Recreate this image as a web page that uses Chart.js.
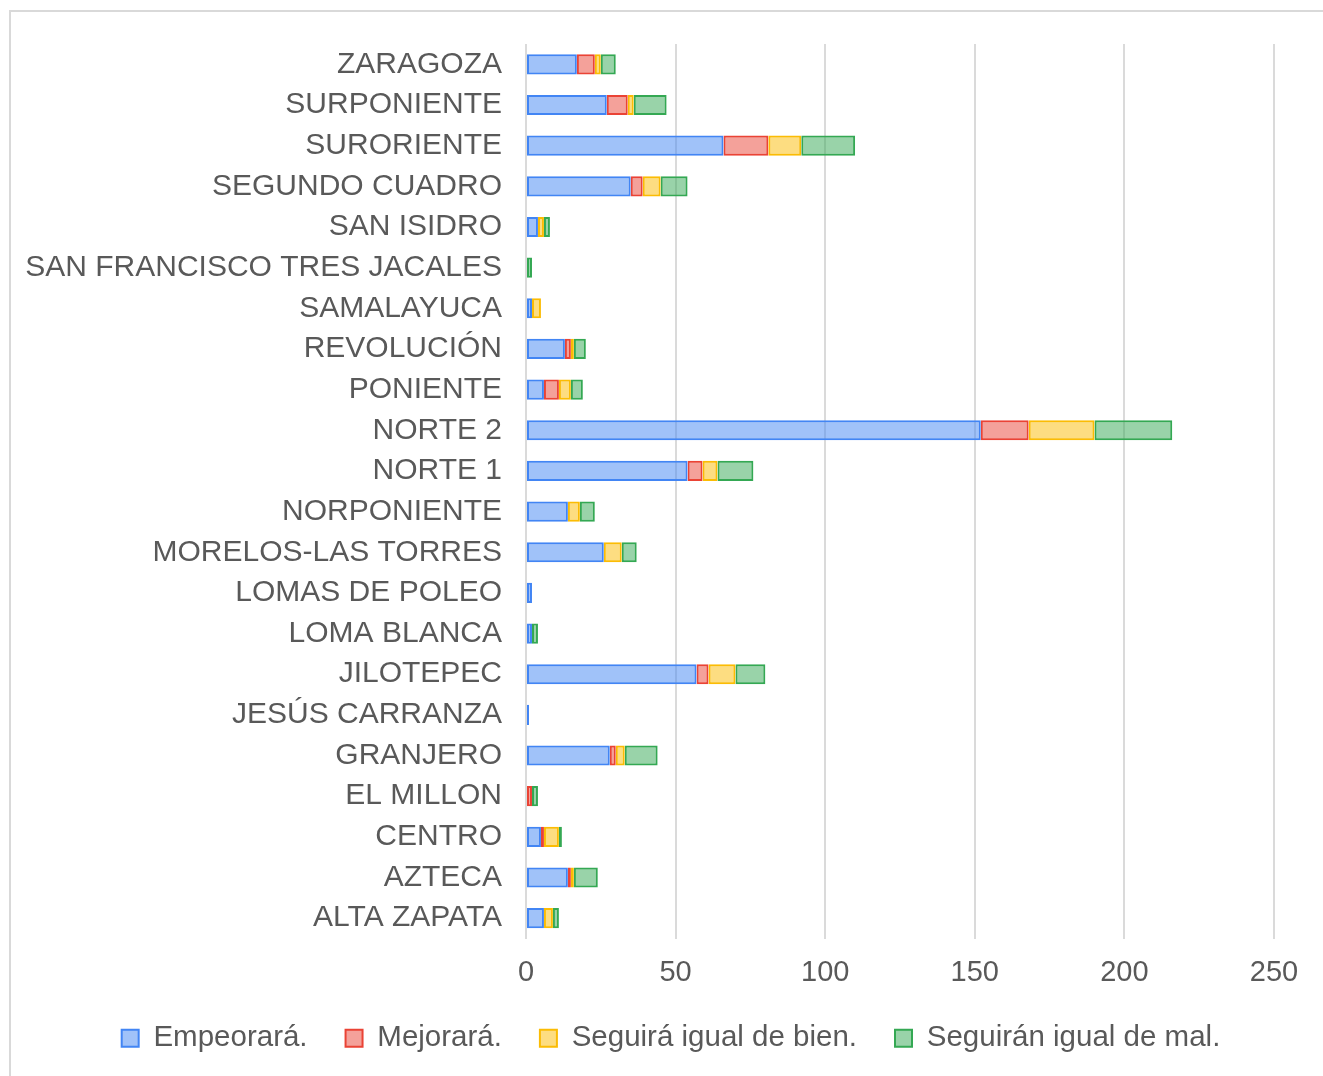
<!DOCTYPE html>
<html lang="es">
<head>
<meta charset="utf-8">
<title>Percepción por zona</title>
<script src="https://cdn.jsdelivr.net/npm/chart.js@4/dist/chart.umd.min.js"></script>
<style>
    html, body { margin: 0; padding: 0; background: #ffffff; overflow: hidden; }
    #frame {
        position: absolute;
        left: 9px;
        top: 10px;
        width: 1400px;
        height: 1200px;
        border-left: 2px solid #d9d9d9;
        border-top: 2px solid #d9d9d9;
    }
    #wrap { position: relative; width: 1323px; height: 1076px; }
</style>
</head>
<body>
<div id="frame"></div>
<div id="wrap"><canvas id="zonesChart"></canvas></div>
<script>
// Zones, top to bottom as they appear in the chart
const zones = [
    'ZARAGOZA', 'SURPONIENTE', 'SURORIENTE', 'SEGUNDO CUADRO', 'SAN ISIDRO',
    'SAN FRANCISCO TRES JACALES', 'SAMALAYUCA', 'REVOLUCIÓN', 'PONIENTE',
    'NORTE 2', 'NORTE 1', 'NORPONIENTE', 'MORELOS-LAS TORRES', 'LOMAS DE POLEO',
    'LOMA BLANCA', 'JILOTEPEC', 'JESÚS CARRANZA', 'GRANJERO', 'EL MILLON',
    'CENTRO', 'AZTECA', 'ALTA ZAPATA'
];

// Answer counts per zone (same order as zones)
const empeorara = [17, 27, 66, 35, 4, 0, 2, 13, 6, 152, 54, 14, 26, 2, 2, 57, 1, 28, 0, 5, 14, 6];
const mejorara  = [6, 7, 15, 4, 0, 0, 0, 2, 5, 16, 5, 0, 0, 0, 0, 4, 0, 2, 2, 1, 1, 0];
const igualBien = [2, 2, 11, 6, 2, 0, 3, 1, 4, 22, 5, 4, 6, 0, 0, 9, 0, 3, 0, 5, 1, 3];
const igualMal  = [5, 11, 18, 9, 2, 2, 0, 4, 4, 26, 12, 5, 5, 0, 2, 10, 0, 11, 2, 1, 8, 2];

// Series names for the legend
const seriesNames = ['Empeorará.', 'Mejorará.', 'Seguirá igual de bien.', 'Seguirán igual de mal.'];

// Value axis range
const axisMin = 0;
const axisMax = 250;
const axisStep = 50;

const TEXT_COLOR = '#595959';
const FONT_FAMILY = '"Liberation Sans", Arial, sans-serif';

/**
 * Builds one stacked bar dataset
 */
function makeDataset(label, data, border, fill) {
    return {
        label,
        data,
        backgroundColor: fill,
        borderColor: border,
        borderWidth: 2,
        borderSkipped: false,
        categoryPercentage: 0.8,
        barPercentage: 0.62
    };
}

// Nudge the legend row a bit to the right, the long zone names need the left margin
const legendNudge = {
    id: 'legendNudge',
    afterLayout(chart) {
        if (!chart.legend) return;
        chart.legend.left += 24;
        chart.legend.right += 24;
    }
};

function renderZonesChart() {
    const canvas = document.getElementById('zonesChart');
    if (!canvas) return;

    const ctx = canvas.getContext('2d');
    new Chart(ctx, {
        type: 'bar',
        data: {
            labels: zones,
            datasets: [
                makeDataset(seriesNames[0], empeorara, '#4285f4', 'rgba(66, 133, 244, 0.5)'),
                makeDataset(seriesNames[1], mejorara, '#ea4335', 'rgba(234, 67, 53, 0.5)'),
                makeDataset(seriesNames[2], igualBien, '#fbbc04', 'rgba(251, 188, 4, 0.5)'),
                makeDataset(seriesNames[3], igualMal, '#34a853', 'rgba(52, 168, 83, 0.5)')
            ]
        },
        plugins: [legendNudge],
        options: {
            indexAxis: 'y',
            responsive: true,
            maintainAspectRatio: false,
            animation: false,
            layout: {
                padding: { left: 20, right: 49, top: 44, bottom: 13 }
            },
            scales: {
                x: {
                    stacked: true,
                    min: axisMin,
                    max: axisMax,
                    grid: {
                        color: '#dadada',
                        lineWidth: 2,
                        drawTicks: false
                    },
                    border: { display: false },
                    ticks: {
                        stepSize: axisStep,
                        padding: 20,
                        color: TEXT_COLOR,
                        font: { family: FONT_FAMILY, size: 29, lineHeight: 1 }
                    },
                    afterFit: (scale) => { scale.height = 47; }
                },
                y: {
                    stacked: true,
                    grid: { display: false, drawTicks: false },
                    border: { display: false },
                    ticks: {
                        padding: 24,
                        color: TEXT_COLOR,
                        autoSkip: false,
                        font: { family: FONT_FAMILY, size: 30 }
                    },
                    afterFit: (scale) => { scale.width = 506; }
                }
            },
            plugins: {
                legend: {
                    display: true,
                    position: 'bottom',
                    labels: {
                        boxWidth: 17,
                        boxHeight: 17,
                        padding: 38,
                        color: TEXT_COLOR,
                        font: { family: FONT_FAMILY, size: 29.5 }
                    }
                },
                tooltip: { enabled: false }
            }
        }
    });
}

document.addEventListener('DOMContentLoaded', renderZonesChart);
</script>
</body>
</html>
